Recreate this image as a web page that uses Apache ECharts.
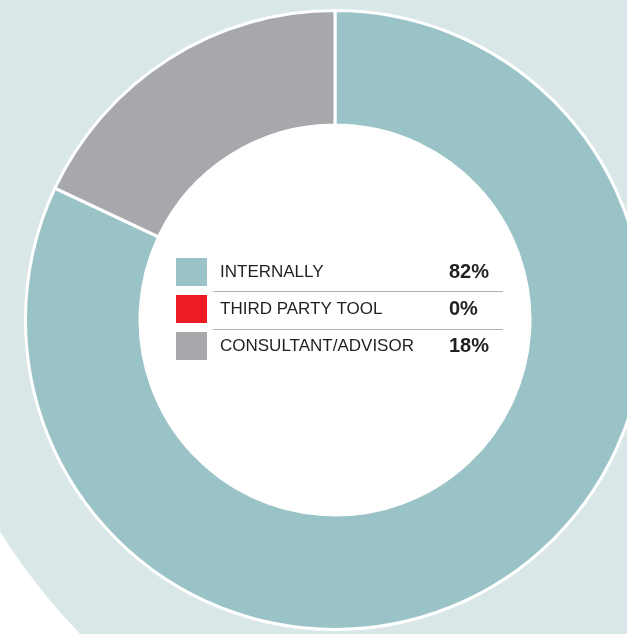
<!DOCTYPE html>
<html>
<head>
<meta charset="utf-8">
<script src="https://cdn.jsdelivr.net/npm/echarts@6/dist/echarts.min.js"></script>
<style>
  html, body { margin: 0; padding: 0; background: #ffffff; }
  #chart { width: 627px; height: 634px; }
</style>
</head>
<body>
<div id="chart"></div>
<script>
// How the work is carried out: share of respondents per option
const categories = ['INTERNALLY', 'THIRD PARTY TOOL', 'CONSULTANT/ADVISOR'];
const shares = [82, 0, 18];
const colors = ['#9ac3c7', '#ed1c24', '#a7a8ac'];

const chart = echarts.init(document.getElementById('chart'));

const pieData = categories.map((name, i) => ({
  name: name,
  value: shares[i],
  itemStyle: { color: colors[i] }
}));

const shareByName = {};
categories.forEach((c, i) => { shareByName[c] = shares[i]; });

chart.setOption({
  backgroundColor: '#ffffff',
  animation: false,
  graphic: [
    {
      // large pale backdrop disc
      type: 'circle',
      z: 0,
      silent: true,
      shape: { cx: 512, cy: 213, r: 603 },
      style: { fill: '#d9e7e8' }
    },
    {
      // white hole of the donut
      type: 'circle',
      z: 1,
      silent: true,
      shape: { cx: 335, cy: 320, r: 196 },
      style: { fill: '#ffffff' }
    },
    {
      type: 'line',
      z: 10,
      silent: true,
      shape: { x1: 213, y1: 291.5, x2: 503, y2: 291.5 },
      style: { stroke: '#b3b3b3', lineWidth: 1 }
    },
    {
      type: 'line',
      z: 10,
      silent: true,
      shape: { x1: 213, y1: 329.5, x2: 503, y2: 329.5 },
      style: { stroke: '#b3b3b3', lineWidth: 1 }
    }
  ],
  legend: {
    orient: 'vertical',
    left: 176,
    top: 258,
    padding: 0,
    itemWidth: 31,
    itemHeight: 28,
    itemGap: 9,
    icon: 'rect',
    itemStyle: { borderWidth: 0 },
    selectedMode: false,
    data: categories,
    formatter: function (name) {
      return '{n|' + name + '}{v|' + shareByName[name] + '%}';
    },
    textStyle: {
      rich: {
        n: {
          width: 229,
          padding: [0, 0, 0, 8],
          fontFamily: 'Liberation Sans',
          fontSize: 17,
          color: '#231f20'
        },
        v: {
          fontFamily: 'Liberation Sans',
          fontSize: 20,
          fontWeight: 'bold',
          color: '#231f20'
        }
      }
    }
  },
  series: [
    {
      type: 'pie',
      center: [335, 320],
      radius: [195, 309.5],
      startAngle: 90,
      clockwise: true,
      label: { show: false },
      labelLine: { show: false },
      emphasis: { disabled: true },
      itemStyle: { borderColor: '#ffffff', borderWidth: 3 },
      data: pieData
    }
  ]
});
</script>
</body>
</html>
